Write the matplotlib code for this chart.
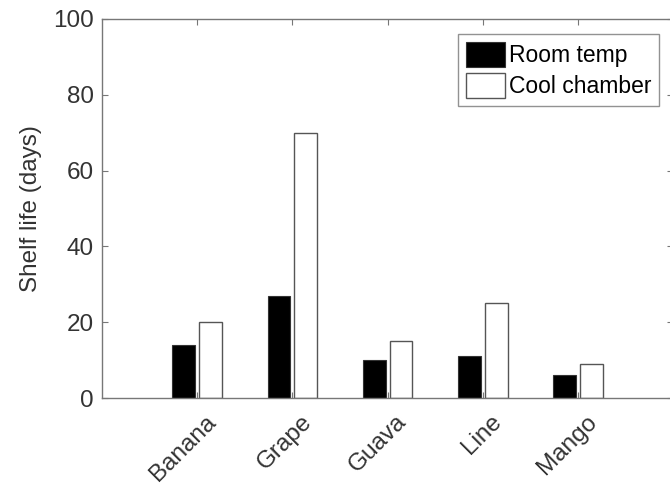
import matplotlib
matplotlib.use("Agg")
import matplotlib.pyplot as plt
import matplotlib.transforms as mtransforms
import numpy as np

fruits = ["Banana", "Grape", "Guava", "Line", "Mango"]
room_temp = [14, 27, 10, 11, 6]
cool_chamber = [20, 70, 15, 25, 9]

plt.rcParams["font.family"] = ["Liberation Sans", "DejaVu Sans"]

fig = plt.figure(figsize=(6.7, 4.94), dpi=100)
ax = fig.add_axes([0.152, 0.194, 0.853, 0.768])

x = np.arange(1, len(fruits) + 1)
w = 0.24
ax.bar(x - 0.14, room_temp, w, color="black", edgecolor="#333333",
       linewidth=0.8, label="Room temp")
ax.bar(x + 0.14, cool_chamber, w, color="white", edgecolor="#555555",
       linewidth=1.0, label="Cool chamber")

ax.set_xlim(0, 6)
ax.set_ylim(0, 100)
ax.set_xticks(x)
ax.set_xticklabels(fruits, rotation=45, ha="right", rotation_mode="anchor")
ax.set_yticks([0, 20, 40, 60, 80, 100])
ax.tick_params(direction="in", top=True, right=True, length=4,
               color="#777777", labelsize=17.5, labelcolor="#333333", pad=6)
ax.tick_params(axis="x", pad=9)
shift = mtransforms.ScaledTranslation(8 / 100, 0, fig.dpi_scale_trans)
for lab in ax.get_xticklabels():
    lab.set_transform(lab.get_transform() + shift)
for s in ax.spines.values():
    s.set_color("#777777")
    s.set_linewidth(1.0)
ax.set_ylabel("Shelf life (days)", fontsize=17.5, color="#333333", labelpad=8)

leg = ax.legend(loc="upper right", bbox_to_anchor=(0.975, 0.96),
                fontsize=16.5, frameon=True, fancybox=False,
                handlelength=1.7, handleheight=1.3, handletextpad=0.15,
                borderpad=0.35, labelspacing=0.25, borderaxespad=0)
leg.get_frame().set_edgecolor("#777777")
leg.get_frame().set_linewidth(1.0)

fig.savefig("out.png", dpi=100)
